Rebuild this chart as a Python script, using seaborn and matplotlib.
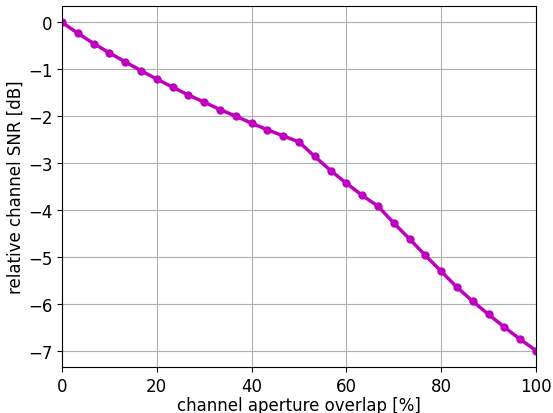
import numpy as np
import pandas as pd
import matplotlib
matplotlib.use("Agg")
import matplotlib.pyplot as plt
import seaborn as sns

overlap = [0, 3.33, 6.67, 10, 13.33, 16.67, 20, 23.33, 26.67, 30, 33.33, 36.67, 40,
           43.33, 46.67, 50, 53.33, 56.67, 60, 63.33, 66.67, 70, 73.33, 76.67, 80,
           83.33, 86.67, 90, 93.33, 96.67, 100]
snr_db = [0.0, -0.23, -0.45, -0.65, -0.84, -1.03, -1.21, -1.38, -1.55, -1.70, -1.86,
          -2.00, -2.15, -2.29, -2.42, -2.55, -2.86, -3.16, -3.43, -3.69, -3.92, -4.28,
          -4.62, -4.97, -5.31, -5.65, -5.95, -6.23, -6.50, -6.76, -7.0]

df = pd.DataFrame({"overlap": overlap, "snr": snr_db})

plt.rcParams['font.size'] = 12
fig = plt.figure(figsize=(5.53, 4.14), dpi=100)
ax = fig.add_axes([62/553, 1-368/414, (536-62)/553, (368-7)/414])
sns.lineplot(data=df, x="overlap", y="snr", ax=ax, color="m", linewidth=2.5,
             marker="o", markersize=6, markeredgewidth=0)
ax.set_xlim(0, 100)
ax.set_ylim(-7.35, 0.35)
ax.set_xticks([0, 20, 40, 60, 80, 100])
ax.set_yticks(range(0, -8, -1))
ax.grid(True, color="#b0b0b0", linewidth=0.8)
ax.set_axisbelow(True)
ax.set_xlabel("channel aperture overlap [%]", labelpad=1)
ax.set_ylabel("relative channel SNR [dB]", labelpad=2)
fig.savefig("out.png", dpi=100)
